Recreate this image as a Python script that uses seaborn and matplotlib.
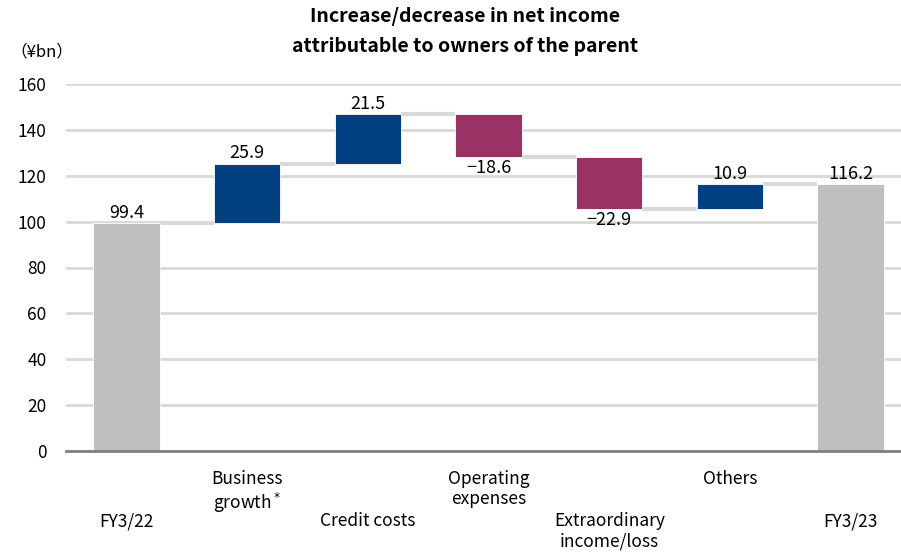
import matplotlib
matplotlib.use("Agg")
import matplotlib.pyplot as plt
import matplotlib.transforms as mtransforms
import seaborn as sns
import pandas as pd
import numpy as np

# ---- data ----
categories = ["FY3/22", "Business\ngrowth$^*$", "Credit costs", "Operating\nexpenses",
              "Extraordinary\nincome/loss", "Others", "FY3/23"]
changes = [99.4, 25.9, 21.5, -18.6, -22.9, 10.9, 116.2]
kinds = ["total", "delta", "delta", "delta", "delta", "delta", "total"]
value_labels = ["99.4", "25.9", "21.5", "\u221218.6", "\u221222.9", "10.9", "116.2"]
y_ticks = [0, 20, 40, 60, 80, 100, 120, 140, 160]

# running totals
bottoms, heights, ends = [], [], []
run = 0.0
for c, k in zip(changes, kinds):
    if k == "total":
        bottoms.append(0.0); heights.append(c); run = c
    else:
        if c >= 0:
            bottoms.append(run); heights.append(c)
        else:
            bottoms.append(run + c); heights.append(-c)
        run = run + c
    ends.append(run)

BLUE = "#003F80"
MAG = "#993366"
GRAY = "#BFBFBF"
colors = []
for c, k in zip(changes, kinds):
    colors.append(GRAY if k == "total" else (BLUE if c >= 0 else MAG))

df = pd.DataFrame({"cat": categories, "height": heights})

sns.set_theme(style="white")
plt.rcParams["font.family"] = ["Noto Sans CJK JP", "DejaVu Sans"]
plt.rcParams["mathtext.fontset"] = "dejavusans"

fig = plt.figure(figsize=(9.01, 5.55), dpi=100)
W, H = 901, 555
ax = fig.add_axes([66 / W, (H - 451) / H, (911 - 66) / W, (451 - 84) / H])

sns.barplot(data=df, x="cat", y="height", bottom=np.array(bottoms), color=GRAY,
            width=0.55, ax=ax, edgecolor="white", linewidth=0.6, saturation=1,
            zorder=3, errorbar=None)
for p, col in zip(ax.patches, colors):
    p.set_facecolor(col)

ax.set_xlim(-0.5, len(categories) - 0.5)
ax.set_ylim(0, 160)
ax.set_yticks(y_ticks)
ax.set_yticklabels([str(v) for v in y_ticks], fontsize=12.5, color="#000000")
ax.tick_params(axis="y", length=0, pad=14)
ax.yaxis.grid(True, color="#D9D9D9", linewidth=2.0, zorder=0)
ax.set_axisbelow(True)
ax.set_xlabel("")
ax.set_ylabel("")

for s in ["top", "right", "left"]:
    ax.spines[s].set_visible(False)
ax.spines["bottom"].set_color("#808080")
ax.spines["bottom"].set_linewidth(2.0)
ax.spines["bottom"].set_zorder(5)

# boundaries ticks
ax.set_xticks(np.arange(-0.5, len(categories) + 0.5, 1.0))
ax.set_xticklabels([])
ax.tick_params(axis="x", length=6, width=1.5, color="#808080", direction="out")

# connectors
half = 0.55 / 2
for i in range(len(categories) - 1):
    lvl = ends[i]
    ax.plot([i + half, i + 1 - half], [lvl, lvl], color="#D9D9D9", linewidth=3,
            zorder=2, solid_capstyle="butt")

# value labels
for i, (c, k) in enumerate(zip(changes, kinds)):
    if c >= 0:
        y = bottoms[i] + heights[i]
        ax.text(i, y + 0.6, value_labels[i], ha="center", va="bottom", fontsize=13,
                color="#000000", family=["Noto Sans CJK JP", "DejaVu Sans"])
    else:
        y = bottoms[i]
        ax.text(i, y - 0.8, value_labels[i], ha="center", va="top", fontsize=13,
                color="#000000", family=["Noto Sans CJK JP", "DejaVu Sans"])

# category labels, staggered
trans = mtransforms.blended_transform_factory(ax.transData, fig.transFigure)
for i, lab in enumerate(categories):
    ytop = 470 if i % 2 == 1 else 512
    ax.text(i, 1 - ytop / H, lab, ha="center", va="top", fontsize=12.5,
            transform=trans, linespacing=1.15, color="#000000",
            family=["Noto Sans CJK JP", "DejaVu Sans"])

fig.text(465 / W, 1 - 17 / H, "Increase/decrease in net income", ha="center",
         va="center", fontsize=14, fontweight="bold", color="#000000")
fig.text(465 / W, 1 - 47 / H, "attributable to owners of the parent", ha="center",
         va="center", fontsize=14, fontweight="bold", color="#000000")
fig.text(10 / W, 1 - 52 / H, "\uff08\u00a5bn\uff09", ha="left", va="center",
         fontsize=12, color="#000000")

fig.savefig("out.png", dpi=100)
